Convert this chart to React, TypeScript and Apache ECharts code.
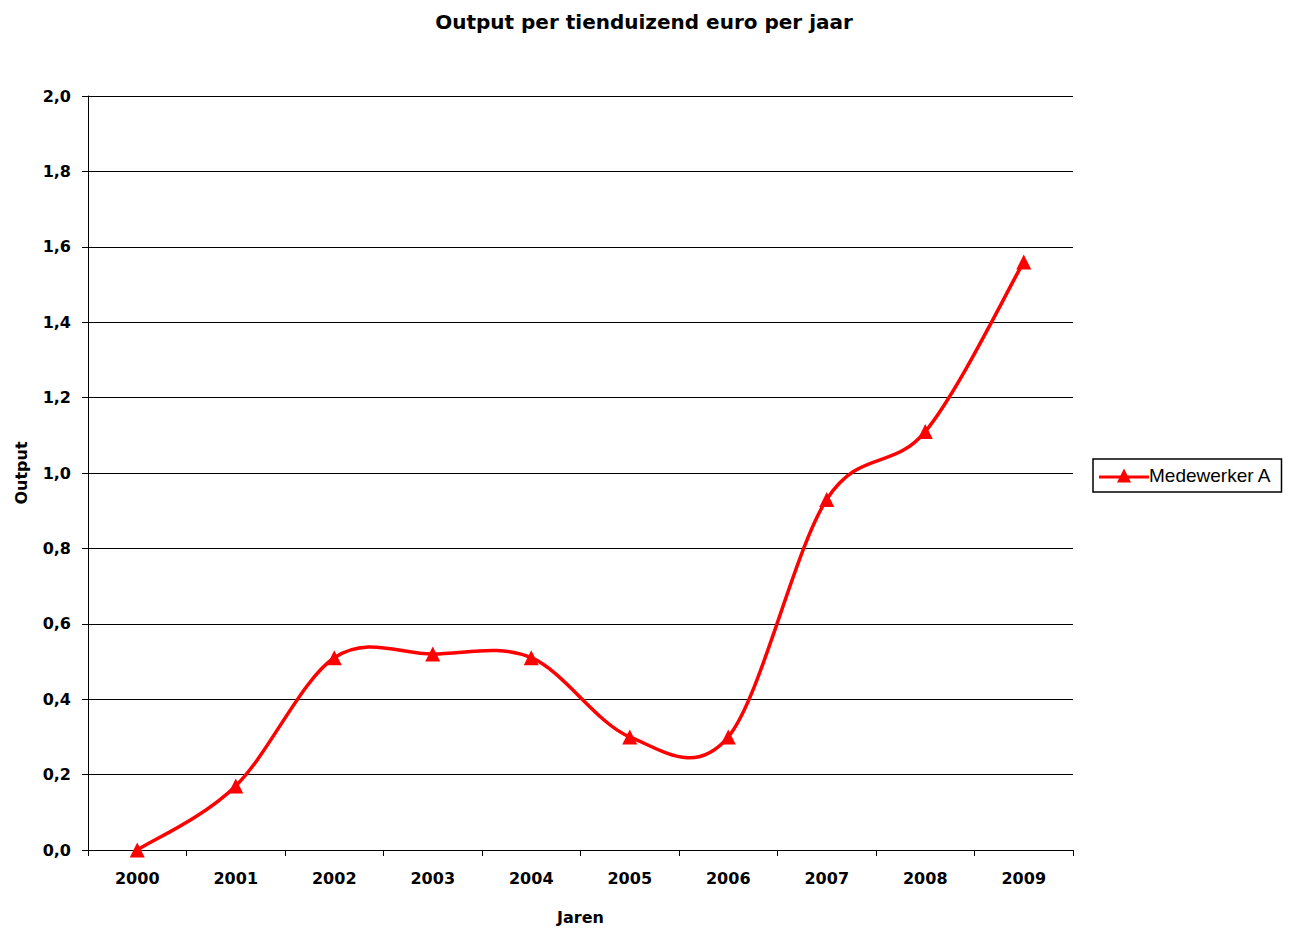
import React, { useEffect, useRef } from "react";
import * as echarts from "echarts";

const years = ["2000", "2001", "2002", "2003", "2004", "2005", "2006", "2007", "2008", "2009"];
const medewerkerA = [0, 0.17, 0.51, 0.52, 0.51, 0.3, 0.3, 0.93, 1.11, 1.56];
const seriesName = "Medewerker A";
const titleText = "Output per tienduizend euro per jaar";

export default function App() {
  const ref = useRef<HTMLDivElement>(null);
  useEffect(() => {
    document.body.style.margin = "0";
    const chart = echarts.init(ref.current!, null, { renderer: "svg" });
    const heavy = "'DejaVu Sans', Arial, sans-serif";
    const regular = "'Liberation Sans', Arial, sans-serif";
    const red = "#ff0000";
    const curveData = medewerkerA.map((v, i) => [i, v]);
    chart.setOption({
      animation: false,
      backgroundColor: "#ffffff",
      title: {
        text: titleText,
        left: 639,
        textAlign: "center",
        top: 7,
        textStyle: { fontFamily: heavy, fontWeight: "bold", fontSize: 20, color: "#000" },
      },
      grid: { left: 88, top: 96, right: 223, bottom: 76, containLabel: false },
      legend: {
        data: [
          {
            name: seriesName,
            icon: "path://M0,7 L50,7 L50,10 L0,10 Z M25,0 L32,14 L18,14 Z",
          },
        ],
        left: 1093,
        top: 459,
        orient: "vertical",
        borderColor: "#000",
        borderWidth: 1.5,
        borderRadius: 0,
        padding: [7, 10, 7, 6],
        itemWidth: 50,
        itemHeight: 14,
        itemGap: 0,
        itemStyle: { color: red },
        textStyle: { fontFamily: regular, fontSize: 19, color: "#000", padding: [0, 0, 0, -5] },
      },
      xAxis: {
        type: "category",
        data: years,
        boundaryGap: true,
        name: "Jaren",
        nameLocation: "middle",
        nameGap: 59,
        nameTextStyle: { fontFamily: heavy, fontWeight: "bold", fontSize: 16, color: "#000" },
        axisLine: { lineStyle: { color: "#000", width: 1 } },
        axisTick: { show: true, length: 6, alignWithLabel: false, lineStyle: { color: "#000" } },
        axisLabel: { fontFamily: heavy, fontWeight: "bold", fontSize: 16, color: "#000", margin: 20 },
        splitLine: { show: false },
      },
      yAxis: {
        type: "value",
        min: 0,
        max: 2,
        interval: 0.2,
        name: "Output",
        nameLocation: "middle",
        nameGap: 59,
        nameTextStyle: { fontFamily: heavy, fontWeight: "bold", fontSize: 16, color: "#000" },
        axisLine: { show: true, lineStyle: { color: "#000", width: 1 } },
        axisTick: { show: true, length: 6, inside: false, lineStyle: { color: "#000" } },
        axisLabel: {
          fontFamily: heavy,
          fontWeight: "bold",
          fontSize: 16,
          color: "#000",
          margin: 17,
          formatter: (v: number) => v.toFixed(1).replace(".", ","),
        },
        splitLine: { show: true, lineStyle: { color: "#000", width: 1 } },
      },
      series: [
        {
          name: "curve",
          type: "custom",
          coordinateSystem: "cartesian2d",
          data: curveData,
          encode: { x: 0, y: 1 },
          clip: false,
          z: 2,
          silent: true,
          renderItem: (params: any, api: any) => {
            if (params.dataIndex !== 0) return null;
            const pts = curveData.map((d) => api.coord([d[0], d[1]]));
            const n = pts.length;
            let d = `M${pts[0][0]},${pts[0][1]}`;
            const t = 1 / 6;
            for (let i = 0; i < n - 1; i++) {
              const p0 = pts[Math.max(i - 1, 0)];
              const p1 = pts[i];
              const p2 = pts[i + 1];
              const p3 = pts[Math.min(i + 2, n - 1)];
              const c1x = p1[0] + (p2[0] - p0[0]) * t;
              const c1y = p1[1] + (p2[1] - p0[1]) * t;
              const c2x = p2[0] - (p3[0] - p1[0]) * t;
              const c2y = p2[1] - (p3[1] - p1[1]) * t;
              d += ` C${c1x},${c1y} ${c2x},${c2y} ${p2[0]},${p2[1]}`;
            }
            return {
              type: "path",
              shape: { pathData: d },
              style: { fill: "none", stroke: red, lineWidth: 3.5, lineJoin: "round", lineCap: "round" },
            };
          },
        },
        {
          name: seriesName,
          type: "line",
          data: medewerkerA,
          symbol: "triangle",
          symbolSize: 15,
          showAllSymbol: true,
          z: 3,
          lineStyle: { width: 0, opacity: 0 },
          itemStyle: { color: red },
        },
      ],
    });
    return () => chart.dispose();
  }, []);
  return <div ref={ref} style={{ width: 1296, height: 930, position: "absolute", left: 0, top: 0 }} />;
}
